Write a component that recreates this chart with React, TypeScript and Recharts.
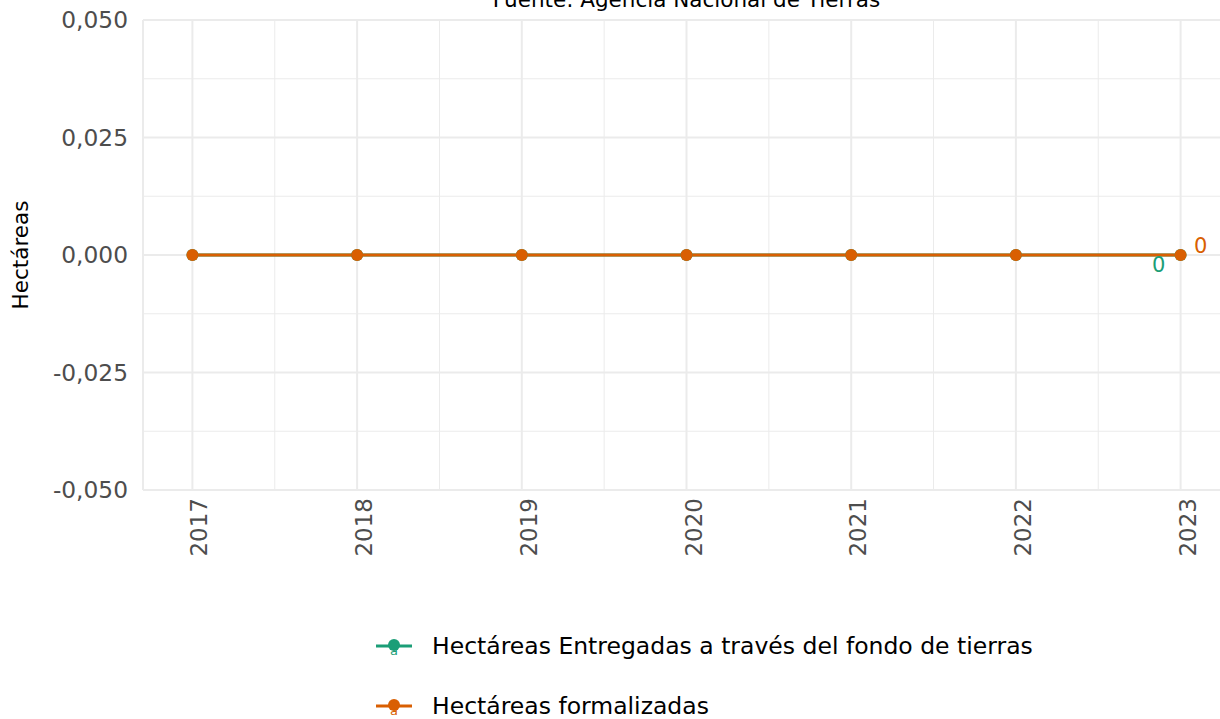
import React from "react";
import { LineChart, Line, XAxis, YAxis, CartesianGrid, ReferenceLine, Legend, LabelList, Label } from "recharts";

const years = [2017, 2018, 2019, 2020, 2021, 2022, 2023];
const entregadas = [0, 0, 0, 0, 0, 0, 0];
const formalizadas = [0, 0, 0, 0, 0, 0, 0];

const yTicks = [-0.05, -0.025, 0, 0.025, 0.05];
const yMinor = [-0.0375, -0.0125, 0.0125, 0.0375];
const xMinor = [2017.5, 2018.5, 2019.5, 2020.5, 2021.5, 2022.5];

const SERIES = [
  { key: "entregadas", name: "Hectáreas Entregadas a través del fondo de tierras", color: "#1b9e77" },
  { key: "formalizadas", name: "Hectáreas formalizadas", color: "#d95f02" },
];

const data = years.map((year, i) => ({
  year,
  entregadas: entregadas[i],
  formalizadas: formalizadas[i],
}));

const FONT = "'DejaVu Sans', Verdana, sans-serif";
const GRID = "#ebebeb";

const fmtY = (v: number) => v.toFixed(3).replace(".", ",");

const XTick = ({ x, y, payload }: any) => (
  <text
    x={x + 15}
    y={y + 8}
    transform={`rotate(-90 ${x + 15} ${y + 8})`}
    textAnchor="end"
    fontSize={23}
    fill="#4d4d4d"
    fontFamily={FONT}
  >
    {payload.value}
  </text>
);

// last-point labels, green nudged down-left, orange up-right
const endLabel = (color: string, dx: number, dy: number) => (props: any) => {
  const { x, y, index, value } = props;
  if (index !== years.length - 1) return null;
  return (
    <text x={x + dx} y={y + dy} textAnchor="middle" fontSize={21} fill={color} fontFamily={FONT}>
      {value}
    </text>
  );
};

const renderLegend = () => (
  <div style={{ fontFamily: FONT, fontSize: 23.5, color: "#000" }}>
    {SERIES.map((s) => (
      <div key={s.key} style={{ display: "flex", alignItems: "center", height: 60 }}>
        <svg width={62} height={60} style={{ display: "block" }}>
          <line x1={6} x2={42} y1={29} y2={29} stroke={s.color} strokeWidth={3} />
          <circle cx={24} cy={28} r={6} fill={s.color} />
          <text x={24} y={38} textAnchor="middle" fontSize={13} fill={s.color} fontFamily={FONT}>
            a
          </text>
        </svg>
        <span style={{ whiteSpace: "nowrap", lineHeight: 1 }}>{s.name}</span>
      </div>
    ))}
  </div>
);

export default function App() {
  return (
    <div
      style={{
        position: "absolute",
        left: 0,
        top: 0,
        width: 1220,
        height: 719,
        overflow: "hidden",
        background: "#fff",
      }}
    >
      <div
        style={{
          position: "absolute",
          left: 143,
          width: 1087,
          top: -11,
          textAlign: "center",
          fontFamily: FONT,
          fontSize: 21.5,
          lineHeight: "21px",
          color: "#000",
          whiteSpace: "nowrap",
          zIndex: 2,
        }}
      >
        Fuente: Agencia Nacional de Tierras
      </div>
      <LineChart
        width={1240}
        height={719}
        data={data}
        margin={{ top: 20, right: 10, left: 0, bottom: 149 }}
      >
        <CartesianGrid stroke={GRID} strokeWidth={2} />
        {yMinor.map((v) => (
          <ReferenceLine key={`ym${v}`} y={v} stroke={GRID} strokeWidth={1} />
        ))}
        {xMinor.map((v) => (
          <ReferenceLine key={`xm${v}`} x={v} stroke={GRID} strokeWidth={1} />
        ))}
        <XAxis
          type="number"
          dataKey="year"
          domain={[2016.7, 2023.3]}
          allowDataOverflow
          ticks={years}
          interval={0}
          axisLine={false}
          tickLine={false}
          tickSize={0}
          tickMargin={0}
          height={80}
          tick={<XTick />}
        />
        <YAxis
          type="number"
          domain={[-0.05, 0.05]}
          allowDataOverflow
          ticks={yTicks}
          interval={0}
          tickFormatter={fmtY}
          axisLine={false}
          tickLine={false}
          tickSize={0}
          tickMargin={15}
          width={143}
          tick={{ fill: "#4d4d4d", fontSize: 23.3, fontFamily: FONT }}
        >
          <Label
            content={({ viewBox }: any) => {
              const cx = (viewBox?.x ?? 0) + 28;
              const cy = (viewBox?.y ?? 20) + (viewBox?.height ?? 470) / 2;
              return (
                <text
                  x={cx}
                  y={cy}
                  transform={`rotate(-90 ${cx} ${cy})`}
                  textAnchor="middle"
                  fontSize={21.5}
                  fill="#000"
                  fontFamily={FONT}
                >
                  Hectáreas
                </text>
              );
            }}
          />
        </YAxis>
        <Legend
          layout="vertical"
          align="center"
          verticalAlign="middle"
          wrapperStyle={{ left: 370, top: 617 }}
          content={renderLegend}
        />
        {SERIES.map((s, i) => (
          <Line
            key={s.key}
            type="linear"
            dataKey={s.key}
            name={s.name}
            stroke={s.color}
            strokeWidth={3}
            dot={{ r: 6, fill: s.color, stroke: "none" }}
            activeDot={false}
            isAnimationActive={false}
          >
            <LabelList
              dataKey={s.key}
              content={i === 0 ? endLabel(s.color, -22, 17) : endLabel(s.color, 20, -2)}
            />
          </Line>
        ))}
      </LineChart>
    </div>
  );
}
